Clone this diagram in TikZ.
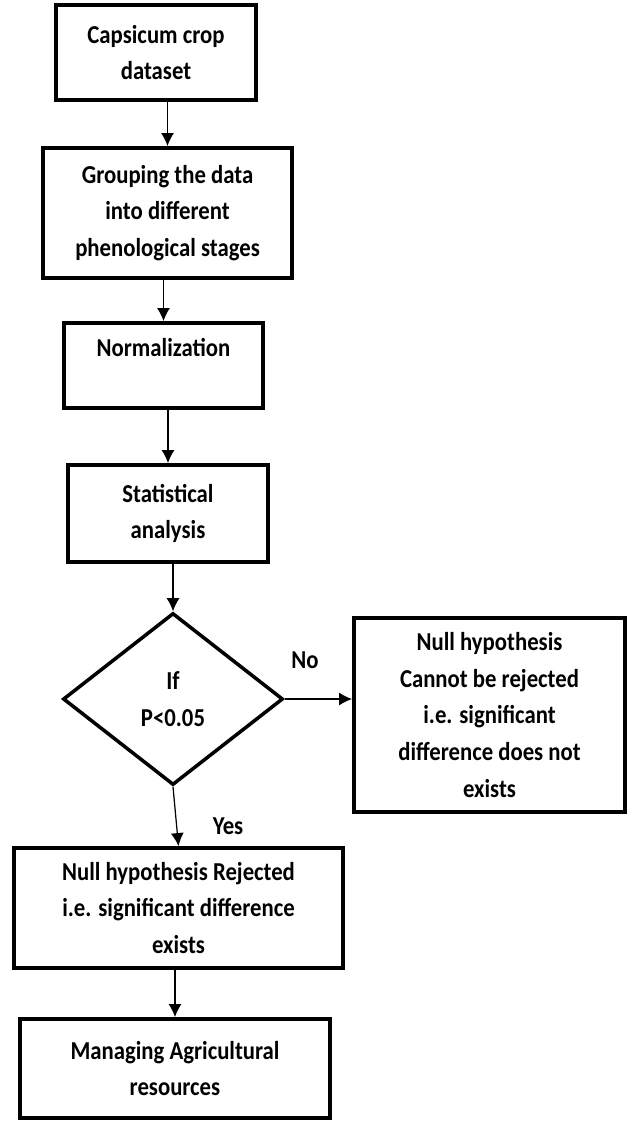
\documentclass[tikz,border=0pt]{standalone}
\usepackage{fontspec}
\setmainfont{Carlito}[FakeStretch=0.88]
\usepackage{tikz}
\usetikzlibrary{shapes.geometric,arrows.meta,positioning,calc}

\begin{document}
\begin{tikzpicture}[
    font=\bfseries\fontsize{14.7}{20.8}\selectfont,
    stage/.style={rectangle, draw, line width=2.2pt, align=center, inner sep=2pt},
    test/.style={diamond, draw, line width=2pt, align=center, inner sep=0pt},
    flow/.style={-{Latex[length=2.6mm,width=2.6mm]}, line width=0.7pt},
    ans/.style={inner sep=1pt}
]
\useasboundingbox (0,0) rectangle (12.6,-22.52);
% ----- main column -----
\node[stage, minimum width=4cm, minimum height=1.9cm] (crop) at (3.12,-1.05) {Capsicum crop\\dataset};
\node[stage, minimum width=4.98cm, minimum height=2.6cm] (group) at (3.35,-4.26) {Grouping the data\\into different\\phenological stages};
\node[stage, minimum width=3.98cm, minimum height=1.7cm] (norm) at (3.27,-7.31) {Normalization\\\mbox{}};
\node[stage, minimum width=4cm, minimum height=1.94cm] (stat) at (3.36,-10.27) {Statistical\\analysis};
% ----- decision -----
\node[test, minimum width=4.4cm, minimum height=3.44cm] (pval) at (3.46,-13.98) {If\\P<0.05};
\node[stage, minimum width=5.42cm, minimum height=3.88cm] (keep) at (9.79,-14.3) {Null hypothesis\\Cannot be rejected\\i.e. significant\\difference does not\\exists};
\node[ans] (no) at (6.1,-13.2) {No};
\node[ans] (yes) at (4.56,-16.52) {Yes};
% ----- outcome -----
\node[stage, minimum width=6.58cm, minimum height=2.4cm] (reject) at (3.57,-18.16) {Null hypothesis Rejected\\i.e. significant difference\\exists};
\node[stage, minimum width=6.2cm, minimum height=1.98cm] (manage) at (3.5,-21.37) {Managing Agricultural\\resources};
% ----- arrows -----
\foreach \a/\b in {crop/group,group/norm,norm/stat,stat/pval} \draw[flow] (\a.south -| \b.north) -- (\b.north);
\draw[flow] (pval.south) -- (reject.north);
\draw[flow] (reject.south -| manage.north) -- (manage.north);
\draw[flow] (pval.east) -- (pval.east -| keep.west);
\end{tikzpicture}
\end{document}
